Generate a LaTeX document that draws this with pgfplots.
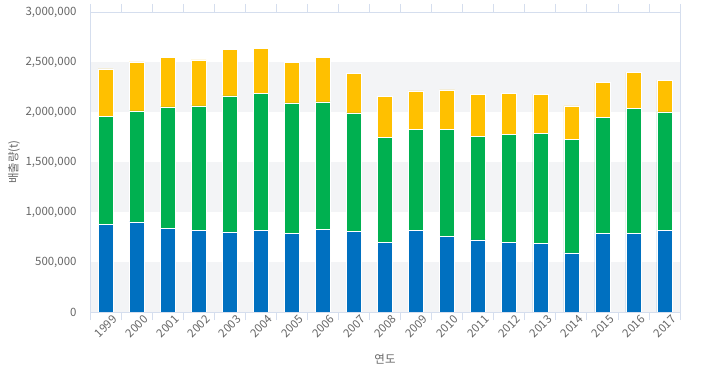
\documentclass[border=0pt]{standalone}
\usepackage{pgfplots}
\pgfplotsset{compat=1.18}
\usepackage{pgfplotstable}
\usepackage{fontspec}
\setmainfont{Noto Sans CJK KR}
\definecolor{cblue}{HTML}{0070C0}
\definecolor{cgreen}{HTML}{00B050}
\definecolor{cyellow}{HTML}{FFC000}
\definecolor{axcol}{HTML}{D5DEEE}
\definecolor{band}{HTML}{F3F4F6}
\definecolor{txt}{HTML}{666666}
\pgfplotstableread{
x year a b c
0 1999 879000 1075000 478000
1 2000 902000 1109000 491000
2 2001 839000 1212000 492000
3 2002 819000 1242000 461000
4 2003 802000 1360000 461000
5 2004 819000 1369000 445000
6 2005 788000 1303000 405000
7 2006 829000 1272000 442000
8 2007 809000 1182000 394000
9 2008 698000 1049000 411000
10 2009 819000 1005000 388000
11 2010 758000 1066000 398000
12 2011 722000 1035000 421000
13 2012 698000 1076000 414000
14 2013 688000 1096000 394000
15 2014 591000 1136000 334000
16 2015 788000 1156000 355000
17 2016 788000 1247000 364000
18 2017 819000 1182000 318000
}\datatable
\begin{document}
\begin{tikzpicture}
\useasboundingbox (-90bp,-60bp) rectangle (612bp,312bp);
\fill[band] (0,0) rectangle (590bp,50bp);
\fill[band] (0,100bp) rectangle (590bp,150bp);
\fill[band] (0,200bp) rectangle (590bp,250bp);
\begin{axis}[
  at={(0,0)}, anchor=south west,
  width=590bp, height=300bp, scale only axis,
  ybar stacked, bar width=15bp,
  xmin=-0.5, xmax=18.5, ymin=0, ymax=3000000,
  xtick={0,...,18},
  xticklabels={1999,2000,2001,2002,2003,2004,2005,2006,2007,2008,2009,2010,2011,2012,2013,2014,2015,2016,2017},
  minor xtick={-0.5,0.5,...,18.5},
  ytick={0,500000,...,3000000},
  scaled y ticks=false,
  /pgf/number format/fixed,
  /pgf/number format/precision=0,
  /pgf/number format/1000 sep={,},
  /pgf/number format/assume math mode=true,
  tick label style={font=\fontsize{11.5}{12}\selectfont, text=txt},
  xticklabel style={rotate=45, anchor=north east, inner sep=0pt, yshift=-6bp, xshift=3bp},
  yticklabel style={xshift=-10bp},
  major tick length=0pt,
  minor tick length=8bp,
  tick align=outside,
  minor tick style={axcol, line width=0.8pt},
  axis line style={axcol, line width=0.8pt},
  ylabel={배출량(t)}, xlabel={연도},
  label style={font=\fontsize{11.5}{12}\selectfont, text=txt},
  ylabel style={at={(axis description cs:-0.1288,0.5)}, anchor=center},
  xlabel style={at={(axis description cs:0.5,-0.1567)}, anchor=center},
  every axis plot/.append style={draw=white, line width=0.5pt},
]
\addplot[fill=cblue] table[x=x, y=a] {\datatable};
\addplot[fill=cgreen] table[x=x, y=b] {\datatable};
\addplot[fill=cyellow] table[x=x, y=c] {\datatable};
\end{axis}
\end{tikzpicture}
\end{document}
